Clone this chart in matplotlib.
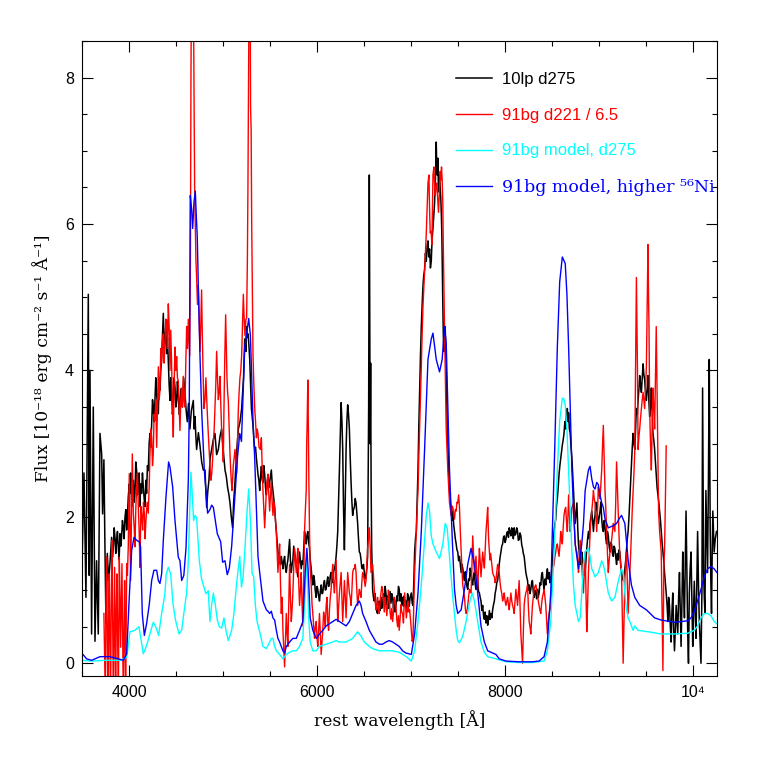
import numpy as np
import matplotlib
matplotlib.use("Agg")
import matplotlib.pyplot as plt
from matplotlib.ticker import MultipleLocator

# 10lp d275 (observed)
black_pts = [
    (3500, 1.5), (3518, 2.6), (3539, 0.9), (3564, 5.04), (3574, 1.2), (3582, 4.0), (3599, 0.4), (3617, 3.5),
    (3635, 0.3), (3652, 1.4), (3670, 0.4), (3688, 3.14), (3706, 2.86), (3716, 2.04), (3730, 2.78), (3741, 1.59),
    (3752, 0.54), (3766, 1.5), (3780, 1.13), (3794, 1.36), (3812, 1.72), (3821, 1.45), (3830, 1.58), (3839, 1.85),
    (3848, 1.72), (3856, 1.5), (3865, 1.68), (3874, 1.8), (3883, 1.58), (3892, 1.42), (3901, 1.77), (3910, 1.6),
    (3918, 1.72), (3927, 1.95), (3936, 1.86), (3945, 1.7), (3954, 1.99), (3963, 2.1), (3972, 1.82), (3980, 2.0),
    (3989, 2.27), (4000, 2.45), (4007, 2.32), (4016, 2.6), (4025, 2.14), (4034, 2.35), (4043, 2.5), (4052, 2.2),
    (4060, 2.32), (4069, 2.75), (4078, 2.63), (4087, 2.3), (4096, 2.41), (4105, 2.6), (4113, 2.14), (4122, 2.45),
    (4131, 2.32), (4140, 2.6), (4149, 2.41), (4158, 2.25), (4167, 2.14), (4176, 2.5), (4184, 2.32), (4193, 2.7),
    (4202, 2.63), (4211, 3.0), (4220, 3.14), (4229, 2.95), (4238, 3.27), (4247, 3.6), (4255, 3.5), (4264, 3.3),
    (4273, 3.59), (4282, 3.9), (4291, 3.68), (4300, 3.5), (4309, 3.41), (4318, 3.9), (4326, 3.73), (4335, 4.0),
    (4344, 4.18), (4353, 4.5), (4362, 4.78), (4370, 4.3), (4379, 4.41), (4388, 4.6), (4397, 4.23), (4406, 4.45),
    (4415, 4.14), (4424, 3.8), (4433, 3.59), (4441, 3.9), (4450, 3.73), (4459, 3.4), (4468, 3.55), (4477, 3.9),
    (4486, 3.77), (4495, 3.5), (4504, 3.59), (4512, 3.85), (4521, 3.68), (4530, 3.4), (4539, 3.55), (4550, 3.75),
    (4565, 3.5), (4578, 3.9), (4592, 3.7), (4605, 3.45), (4617, 3.3), (4630, 3.55), (4645, 3.2), (4660, 3.45),
    (4681, 3.59), (4690, 3.2), (4699, 3.37), (4708, 3.1), (4716, 2.92), (4735, 3.15), (4752, 2.97), (4770, 2.75),
    (4787, 2.64), (4805, 2.64), (4814, 2.4), (4823, 2.13), (4835, 2.35), (4847, 2.5), (4860, 2.8), (4876, 2.92),
    (4893, 3.05), (4911, 3.14), (4929, 2.85), (4947, 2.92), (4965, 3.1), (4982, 3.2), (5000, 2.9), (5018, 2.64),
    (5032, 2.55), (5046, 2.4), (5060, 2.3), (5071, 2.19), (5085, 2.0), (5099, 1.85), (5110, 2.2), (5124, 2.47),
    (5142, 2.9), (5160, 3.2), (5178, 3.3), (5195, 3.48), (5215, 3.9), (5228, 4.43), (5241, 4.26), (5246, 4.6),
    (5255, 4.45), (5263, 4.5), (5272, 4.35), (5281, 4.15), (5290, 3.8), (5299, 3.48), (5308, 3.35), (5316, 3.25),
    (5325, 3.05), (5334, 2.92), (5343, 2.95), (5352, 2.8), (5360, 2.7), (5369, 2.58), (5378, 2.5), (5387, 2.36),
    (5396, 2.55), (5405, 2.69), (5414, 2.5), (5422, 2.47), (5431, 2.7), (5440, 2.58), (5449, 2.4), (5458, 2.3),
    (5467, 2.45), (5475, 2.58), (5484, 2.4), (5493, 2.47), (5502, 2.55), (5511, 2.64), (5520, 2.45), (5528, 2.36),
    (5537, 2.25), (5546, 2.13), (5555, 1.95), (5564, 1.8), (5573, 1.65), (5581, 1.52), (5590, 1.5), (5599, 1.41),
    (5608, 1.35), (5617, 1.46), (5626, 1.38), (5634, 1.29), (5643, 1.4), (5652, 1.46), (5661, 1.3), (5670, 1.24),
    (5679, 1.35), (5687, 1.41), (5696, 1.55), (5705, 1.69), (5714, 1.4), (5723, 1.24), (5732, 1.35), (5740, 1.41),
    (5749, 1.6), (5758, 1.52), (5767, 1.45), (5776, 1.35), (5785, 1.25), (5793, 1.18), (5802, 1.35), (5811, 1.52),
    (5820, 1.4), (5829, 1.29), (5838, 1.4), (5846, 1.35), (5855, 1.55), (5864, 1.8), (5873, 1.7), (5882, 1.63),
    (5890, 1.75), (5899, 1.8), (5908, 1.65), (5917, 1.57), (5926, 1.4), (5935, 1.29), (5944, 1.15), (5952, 1.07),
    (5961, 1.2), (5970, 1.13), (5979, 0.98), (5988, 0.9), (5997, 1.05), (6005, 1.01), (6014, 0.92), (6023, 0.85),
    (6032, 0.98), (6041, 1.07), (6050, 0.95), (6058, 0.96), (6067, 1.08), (6076, 1.13), (6085, 1.0), (6094, 1.01),
    (6103, 1.12), (6111, 1.18), (6120, 1.05), (6129, 1.07), (6138, 1.2), (6147, 1.24), (6155, 1.1), (6164, 1.13),
    (6173, 1.25), (6182, 1.29), (6191, 1.35), (6200, 1.46), (6208, 1.6), (6217, 1.8), (6226, 2.2), (6235, 2.64),
    (6244, 3.1), (6253, 3.56), (6262, 3.3), (6270, 2.92), (6279, 2.1), (6288, 1.55), (6297, 2.2), (6306, 2.92),
    (6314, 3.3), (6323, 3.53), (6332, 3.4), (6341, 3.2), (6350, 2.8), (6359, 2.47), (6368, 2.2), (6376, 2.02),
    (6385, 2.1), (6394, 2.13), (6403, 2.25), (6412, 2.19), (6420, 2.05), (6429, 1.91), (6438, 1.7), (6447, 1.52),
    (6456, 1.5), (6465, 1.41), (6473, 1.3), (6482, 1.29), (6491, 1.35), (6500, 1.24), (6509, 1.15), (6518, 1.18),
    (6527, 1.3), (6535, 1.46), (6546, 3.5), (6553, 6.67), (6558, 4.5), (6562, 3.0), (6567, 4.1), (6572, 2.5),
    (6578, 1.6), (6588, 1.01), (6597, 0.9), (6606, 0.85), (6615, 0.95), (6624, 0.79), (6633, 0.7), (6641, 0.68),
    (6650, 0.8), (6659, 0.85), (6668, 0.72), (6677, 0.9), (6685, 0.75), (6694, 0.79), (6703, 0.95), (6712, 0.8),
    (6721, 1.05), (6730, 0.96), (6739, 0.8), (6748, 0.92), (6756, 0.75), (6765, 0.85), (6774, 0.98), (6783, 0.82),
    (6792, 0.95), (6801, 0.9), (6810, 0.75), (6818, 0.88), (6827, 0.7), (6836, 0.79), (6845, 0.92), (6854, 0.85),
    (6863, 1.05), (6871, 1.01), (6880, 0.85), (6889, 0.95), (6898, 0.8), (6907, 0.9), (6916, 0.78), (6924, 0.92),
    (6933, 0.85), (6942, 0.85), (6951, 0.7), (6960, 0.95), (6969, 0.9), (6978, 0.78), (6987, 0.9), (7000, 0.96),
    (7009, 0.82), (7018, 0.79), (7026, 1.1), (7035, 1.52), (7044, 1.7), (7053, 1.8), (7062, 2.2), (7071, 2.64),
    (7079, 3.2), (7088, 3.7), (7097, 4.2), (7106, 4.6), (7115, 4.9), (7124, 5.16), (7132, 5.3), (7141, 5.38),
    (7150, 5.6), (7159, 5.49), (7168, 5.7), (7177, 5.77), (7185, 5.55), (7194, 5.66), (7203, 5.4), (7212, 5.49),
    (7221, 5.8), (7230, 5.94), (7238, 6.1), (7247, 6.28), (7256, 6.6), (7265, 7.12), (7270, 6.8), (7275, 6.67),
    (7282, 6.9), (7289, 6.44), (7295, 6.6), (7300, 6.67), (7307, 6.5), (7314, 6.33), (7320, 6.1), (7325, 5.83),
    (7330, 5.3), (7335, 4.88), (7340, 4.5), (7346, 4.26), (7353, 4.4), (7360, 4.6), (7366, 4.3), (7371, 4.04),
    (7376, 3.7), (7381, 3.31), (7388, 3.0), (7395, 2.75), (7400, 2.5), (7406, 2.36), (7415, 2.2), (7424, 2.08),
    (7432, 1.95), (7441, 2.08), (7450, 1.9), (7459, 1.8), (7468, 1.7), (7477, 1.63), (7485, 1.55), (7494, 1.52),
    (7503, 1.4), (7512, 1.46), (7521, 1.35), (7530, 1.24), (7538, 1.35), (7547, 1.3), (7556, 1.2), (7565, 1.13),
    (7574, 1.25), (7582, 1.18), (7591, 1.05), (7600, 1.01), (7609, 1.15), (7618, 1.13), (7626, 1.3), (7635, 1.24),
    (7644, 1.1), (7653, 1.07), (7662, 1.2), (7671, 1.24), (7679, 1.08), (7688, 1.01), (7697, 1.15), (7706, 1.13),
    (7715, 0.98), (7724, 0.96), (7732, 0.9), (7741, 0.85), (7750, 0.72), (7759, 0.79), (7768, 0.65), (7777, 0.6),
    (7785, 0.7), (7794, 0.55), (7803, 0.65), (7812, 0.52), (7821, 0.6), (7830, 0.72), (7838, 0.6), (7847, 0.68),
    (7856, 0.62), (7865, 0.73), (7874, 0.8), (7883, 0.85), (7891, 0.95), (7900, 1.01), (7909, 1.1), (7918, 1.13),
    (7927, 1.25), (7935, 1.35), (7944, 1.45), (7953, 1.52), (7962, 1.6), (7971, 1.63), (7980, 1.72), (7988, 1.74),
    (7997, 1.65), (8006, 1.69), (8015, 1.78), (8024, 1.8), (8033, 1.72), (8041, 1.85), (8050, 1.8), (8059, 1.74),
    (8068, 1.85), (8077, 1.8), (8085, 1.7), (8094, 1.85), (8103, 1.75), (8112, 1.77), (8121, 1.85), (8130, 1.8),
    (8138, 1.68), (8147, 1.69), (8156, 1.78), (8165, 1.74), (8174, 1.62), (8183, 1.57), (8191, 1.5), (8200, 1.46),
    (8209, 1.35), (8218, 1.24), (8227, 1.18), (8236, 1.13), (8244, 1.0), (8253, 1.07), (8262, 0.95), (8271, 1.01),
    (8280, 1.1), (8288, 1.13), (8297, 0.98), (8306, 0.9), (8315, 1.0), (8324, 0.96), (8333, 0.88), (8341, 1.01),
    (8350, 0.9), (8359, 0.96), (8368, 1.1), (8377, 1.07), (8385, 1.2), (8394, 1.24), (8403, 1.1), (8412, 1.01),
    (8421, 1.15), (8430, 1.07), (8438, 1.2), (8447, 1.29), (8456, 1.15), (8465, 1.24), (8474, 1.1), (8483, 1.13),
    (8491, 1.25), (8500, 1.35), (8509, 1.6), (8518, 1.8), (8527, 1.9), (8536, 1.97), (8544, 2.15), (8553, 2.25),
    (8562, 2.4), (8571, 2.58), (8580, 2.7), (8589, 2.8), (8597, 2.9), (8606, 2.98), (8615, 3.05), (8624, 3.14),
    (8633, 3.3), (8642, 3.2), (8650, 3.45), (8659, 3.48), (8668, 3.3), (8673, 3.42), (8681, 3.2), (8690, 3.14),
    (8699, 2.95), (8708, 2.8), (8716, 2.6), (8725, 2.36), (8734, 2.1), (8743, 1.91), (8752, 2.05), (8761, 2.19),
    (8770, 1.85), (8778, 1.63), (8787, 1.5), (8796, 1.35), (8805, 1.45), (8813, 1.52), (8822, 1.4), (8831, 1.29),
    (8840, 1.2), (8849, 1.24), (8857, 1.4), (8866, 1.57), (8875, 1.7), (8884, 1.8), (8893, 1.7), (8901, 1.91),
    (8910, 2.0), (8919, 2.08), (8928, 1.95), (8937, 1.8), (8945, 1.95), (8954, 2.02), (8963, 2.2), (8972, 2.13),
    (8981, 2.0), (8989, 1.91), (8998, 2.0), (9007, 2.08), (9016, 2.2), (9025, 1.97), (9033, 1.85), (9042, 1.8),
    (9051, 1.95), (9060, 1.86), (9069, 1.7), (9077, 1.63), (9086, 1.8), (9095, 1.74), (9104, 1.6), (9113, 1.52),
    (9121, 1.65), (9130, 1.63), (9139, 1.5), (9148, 1.46), (9157, 1.6), (9165, 1.57), (9174, 1.45), (9183, 1.35),
    (9192, 1.5), (9201, 1.41), (9209, 1.55), (9218, 1.52), (9227, 1.35), (9236, 1.24), (9245, 1.18), (9253, 1.13),
    (9262, 1.2), (9271, 1.29), (9280, 1.4), (9289, 1.57), (9297, 1.7), (9306, 1.8), (9315, 2.0), (9324, 2.25),
    (9333, 2.5), (9341, 2.75), (9350, 2.95), (9359, 3.14), (9368, 3.0), (9377, 2.92), (9385, 3.2), (9394, 3.48),
    (9403, 3.4), (9412, 3.59), (9421, 3.75), (9429, 3.93), (9438, 3.8), (9447, 3.7), (9456, 3.9), (9465, 4.09),
    (9473, 3.95), (9482, 3.87), (9491, 3.7), (9500, 3.59), (9509, 3.75), (9517, 3.93), (9526, 3.6), (9535, 3.37),
    (9544, 3.5), (9553, 3.76), (9561, 3.45), (9570, 3.14), (9579, 3.05), (9588, 2.92), (9597, 2.75), (9605, 2.58),
    (9614, 2.4), (9623, 2.3), (9632, 2.2), (9641, 2.08), (9650, 1.95), (9658, 1.8), (9667, 1.65), (9676, 1.52),
    (9685, 1.4), (9693, 1.24), (9702, 1.1), (9711, 0.96), (9720, 0.8), (9729, 0.57), (9737, 0.9), (9746, 0.79),
    (9755, 0.5), (9764, 0.29), (9772, 0.7), (9781, 0.96), (9790, 0.5), (9799, 0.17), (9808, 0.45), (9817, 0.79),
    (9825, 0.6), (9834, 0.4), (9843, 0.9), (9852, 1.24), (9861, 0.7), (9869, 0.23), (9878, 0.8), (9887, 1.52),
    (9896, 1.0), (9905, 0.62), (9913, 1.3), (9922, 2.08), (9931, 1.2), (9940, 0.4), (9948, 0.0), (9957, 0.96),
    (9966, 1.3), (9975, 1.52), (9984, 0.9), (9993, 0.23), (10001, 0.7), (10010, 1.12), (10019, 0.7), (10028, 0.34),
    (10036, 1.0), (10045, 1.8), (10054, 1.1), (10063, 0.57), (10072, 0.3), (10081, 0.0), (10091, 1.0), (10098, 3.76),
    (10104, 2.4), (10109, 1.24), (10116, 0.9), (10123, 0.68), (10128, 1.6), (10133, 2.36), (10142, 1.8), (10151, 1.24),
    (10160, 2.5), (10169, 4.15), (10174, 3.0), (10179, 1.8), (10186, 1.1), (10193, 0.68), (10200, 1.5), (10207, 2.08),
    (10214, 1.8), (10221, 1.52), (10233, 1.7), (10246, 1.8),
]

# 91bg d221 / 6.5
red_pts = [
    (3730, 0.68), (3745, -0.5), (3752, 0.9), (3759, 1.45), (3766, 0.3), (3773, -0.5), (3780, 0.6), (3787, 1.22),
    (3794, 0.2), (3801, -0.5), (3808, 0.8), (3816, 1.68), (3823, 0.5), (3830, -0.5), (3837, 0.4), (3844, 1.31),
    (3850, 0.3), (3855, -0.5), (3862, 0.7), (3869, 1.22), (3876, 0.4), (3883, -0.5), (3889, 0.6), (3894, 1.45),
    (3901, 0.9), (3908, 0.22), (3915, 0.8), (3922, 1.36), (3929, 0.5), (3936, -0.5), (3943, 0.3), (3950, 1.13),
    (3956, 0.4), (3961, -0.5), (3967, 0.5), (3972, 1.36), (3980, 1.2), (3989, 1.59), (4000, 2.59), (4007, 1.8),
    (4014, 1.13), (4023, 2.0), (4032, 2.86), (4043, 2.05), (4052, 1.85), (4060, 1.59), (4069, 2.1), (4078, 2.41),
    (4087, 2.6), (4096, 2.14), (4105, 1.8), (4113, 1.31), (4118, 1.7), (4124, 2.14), (4133, 2.0), (4142, 1.82),
    (4151, 2.2), (4160, 2.05), (4168, 1.7), (4177, 1.95), (4190, 2.2), (4202, 2.05), (4211, 2.4), (4220, 2.86),
    (4229, 3.2), (4238, 3.09), (4247, 2.7), (4255, 2.86), (4264, 3.4), (4273, 3.32), (4282, 3.6), (4291, 2.95),
    (4300, 3.5), (4309, 4.05), (4318, 3.6), (4326, 3.73), (4335, 4.3), (4344, 4.1), (4353, 4.4), (4362, 4.5),
    (4370, 4.1), (4379, 4.32), (4388, 4.7), (4397, 4.69), (4406, 4.3), (4415, 4.91), (4424, 4.6), (4433, 4.0),
    (4441, 4.55), (4450, 4.1), (4459, 3.5), (4468, 3.09), (4477, 3.8), (4486, 4.32), (4495, 4.0), (4504, 4.19),
    (4512, 3.9), (4521, 3.86), (4530, 3.5), (4539, 3.18), (4548, 3.6), (4557, 3.76), (4565, 3.5), (4574, 3.92),
    (4583, 3.6), (4592, 3.5), (4601, 4.1), (4610, 4.6), (4619, 4.3), (4628, 4.7), (4636, 4.4), (4642, 4.2),
    (4650, 5.5), (4656, 8.0), (4662, 9.5), (4672, 9.5), (4680, 9.5), (4688, 8.0), (4695, 6.5), (4702, 6.0),
    (4709, 5.5), (4716, 5.27), (4725, 4.9), (4734, 5.16), (4743, 4.7), (4752, 4.26), (4760, 4.6), (4769, 5.1),
    (4778, 4.4), (4786, 3.9), (4794, 3.48), (4805, 3.6), (4815, 3.9), (4827, 3.5), (4840, 3.14), (4850, 2.9),
    (4858, 2.7), (4868, 2.5), (4876, 2.58), (4885, 2.75), (4894, 3.0), (4903, 3.2), (4911, 3.48), (4920, 3.8),
    (4929, 4.26), (4938, 3.9), (4947, 3.6), (4956, 3.7), (4965, 3.92), (4974, 3.5), (4982, 3.2), (4991, 3.0),
    (5000, 2.75), (5007, 3.48), (5016, 4.2), (5025, 4.76), (5032, 4.3), (5039, 3.9), (5046, 3.7), (5053, 3.59),
    (5062, 3.2), (5071, 2.86), (5080, 2.6), (5092, 2.36), (5099, 2.5), (5106, 2.7), (5115, 2.8), (5124, 2.92),
    (5133, 2.75), (5142, 2.6), (5151, 3.0), (5160, 3.48), (5168, 3.7), (5177, 3.9), (5186, 4.0), (5195, 4.2),
    (5204, 4.6), (5213, 5.04), (5222, 4.7), (5230, 4.48), (5240, 4.7), (5248, 4.71), (5256, 5.5), (5262, 6.5),
    (5268, 8.0), (5274, 9.2), (5280, 10.0), (5286, 9.0), (5290, 7.6), (5296, 7.3), (5302, 6.0), (5308, 5.16),
    (5316, 4.2), (5325, 3.8), (5334, 3.48), (5343, 3.3), (5352, 3.08), (5360, 3.2), (5369, 3.14), (5380, 2.95),
    (5394, 2.92), (5405, 3.08), (5413, 2.7), (5422, 2.36), (5431, 2.1), (5440, 1.85), (5449, 2.1), (5458, 2.36),
    (5467, 2.5), (5475, 2.58), (5484, 2.3), (5493, 2.08), (5502, 2.3), (5511, 2.47), (5520, 2.2), (5528, 2.02),
    (5537, 2.2), (5546, 2.13), (5555, 1.95), (5564, 1.8), (5573, 1.5), (5581, 1.24), (5590, 1.45), (5599, 1.63),
    (5608, 1.1), (5617, 0.68), (5626, 0.9), (5634, 0.45), (5643, 0.2), (5652, -0.05), (5661, 0.3), (5670, 0.68),
    (5679, 0.4), (5687, 0.23), (5696, 0.8), (5705, 1.35), (5714, 0.9), (5723, 0.57), (5732, 0.75), (5740, 0.96),
    (5749, 1.3), (5758, 1.57), (5767, 1.4), (5776, 1.24), (5785, 1.45), (5793, 1.57), (5802, 1.1), (5811, 0.79),
    (5820, 1.0), (5829, 1.24), (5838, 0.8), (5846, 0.51), (5855, 1.1), (5864, 1.8), (5873, 2.1), (5882, 2.36),
    (5887, 3.0), (5892, 3.3), (5899, 3.87), (5905, 3.2), (5910, 2.5), (5917, 1.8), (5924, 1.3), (5935, 1.07),
    (5944, 0.8), (5952, 0.68), (5961, 0.5), (5970, 0.34), (5979, 0.5), (5988, 0.57), (5997, 0.35), (6005, 0.23),
    (6014, 0.45), (6023, 0.68), (6032, 0.4), (6041, 0.12), (6050, 0.3), (6058, 0.45), (6067, 0.7), (6076, 0.62),
    (6085, 0.5), (6094, 0.79), (6103, 0.9), (6111, 0.57), (6120, 0.45), (6129, 0.73), (6138, 0.9), (6147, 1.01),
    (6155, 1.2), (6164, 1.35), (6173, 1.1), (6182, 0.96), (6191, 1.2), (6200, 1.41), (6208, 1.0), (6217, 0.57),
    (6226, 0.75), (6235, 0.96), (6244, 1.1), (6253, 1.24), (6262, 0.9), (6270, 0.57), (6279, 0.85), (6288, 1.13),
    (6297, 0.9), (6306, 0.62), (6314, 0.9), (6323, 1.24), (6332, 1.1), (6341, 0.96), (6350, 0.9), (6359, 0.79),
    (6368, 1.0), (6376, 1.24), (6385, 1.29), (6394, 1.29), (6403, 1.35), (6412, 1.24), (6420, 1.0), (6429, 0.79),
    (6438, 0.9), (6447, 1.01), (6456, 0.95), (6465, 0.9), (6473, 1.1), (6482, 1.24), (6491, 1.2), (6500, 1.13),
    (6509, 1.05), (6518, 1.13), (6527, 1.35), (6535, 1.57), (6544, 1.7), (6553, 1.85), (6562, 1.6), (6571, 1.24),
    (6580, 1.3), (6588, 1.35), (6597, 1.2), (6606, 1.01), (6615, 0.85), (6624, 0.73), (6633, 0.8), (6641, 0.9),
    (6650, 0.75), (6659, 0.68), (6668, 0.85), (6677, 0.95), (6685, 1.05), (6694, 1.01), (6703, 0.85), (6712, 0.7),
    (6721, 0.9), (6730, 0.79), (6739, 0.65), (6748, 0.8), (6756, 1.0), (6765, 0.9), (6774, 0.7), (6783, 0.6),
    (6792, 0.75), (6801, 0.57), (6810, 0.7), (6818, 0.9), (6827, 0.85), (6836, 0.79), (6845, 0.6), (6854, 0.5),
    (6863, 0.65), (6871, 0.45), (6880, 0.6), (6889, 0.8), (6898, 0.7), (6907, 0.68), (6916, 0.55), (6929, 0.96),
    (6938, 0.8), (6947, 0.62), (6956, 0.75), (6965, 0.85), (6974, 0.7), (6982, 0.73), (6991, 0.6), (7000, 0.45),
    (7009, 0.3), (7018, 0.34), (7026, 0.8), (7035, 1.24), (7044, 1.5), (7053, 1.8), (7062, 2.1), (7071, 2.36),
    (7079, 2.8), (7088, 3.2), (7097, 3.6), (7106, 4.04), (7115, 4.5), (7124, 4.88), (7132, 5.1), (7141, 5.38),
    (7150, 5.6), (7159, 5.88), (7168, 6.2), (7177, 6.56), (7187, 6.67), (7194, 6.2), (7201, 5.88), (7210, 5.9),
    (7219, 5.72), (7225, 6.2), (7230, 6.67), (7240, 6.78), (7247, 6.55), (7254, 6.39), (7263, 6.5), (7272, 6.56),
    (7280, 6.35), (7289, 6.16), (7298, 6.4), (7307, 6.72), (7314, 6.6), (7321, 6.78), (7328, 6.6), (7335, 6.28),
    (7340, 5.7), (7346, 5.16), (7353, 4.6), (7360, 4.04), (7366, 3.6), (7371, 3.2), (7380, 2.9), (7388, 2.64),
    (7397, 2.4), (7406, 2.19), (7415, 2.1), (7424, 2.02), (7432, 2.15), (7441, 2.13), (7450, 2.05), (7459, 1.97),
    (7468, 2.1), (7477, 2.08), (7485, 2.2), (7494, 2.19), (7503, 2.3), (7512, 2.13), (7521, 1.8), (7530, 1.52),
    (7538, 1.3), (7547, 1.07), (7556, 1.0), (7565, 0.9), (7574, 0.75), (7582, 0.68), (7591, 0.7), (7600, 0.79),
    (7609, 0.9), (7618, 1.01), (7626, 0.98), (7635, 0.96), (7644, 1.3), (7653, 1.74), (7662, 1.5), (7671, 1.24),
    (7679, 1.35), (7688, 1.46), (7697, 1.2), (7706, 1.01), (7715, 1.3), (7724, 1.57), (7732, 1.4), (7741, 1.18),
    (7750, 1.35), (7759, 1.52), (7768, 1.4), (7777, 1.3), (7785, 1.55), (7794, 1.8), (7803, 1.95), (7812, 2.13),
    (7817, 1.9), (7822, 1.69), (7829, 1.55), (7836, 1.41), (7842, 1.5), (7847, 1.46), (7856, 1.35), (7865, 1.24),
    (7874, 1.2), (7883, 1.18), (7891, 1.1), (7900, 1.13), (7909, 1.25), (7918, 1.35), (7927, 1.3), (7935, 1.24),
    (7944, 1.1), (7953, 1.01), (7962, 0.95), (7971, 0.85), (7980, 0.9), (7988, 0.96), (7997, 0.85), (8006, 0.79),
    (8015, 0.85), (8024, 0.9), (8033, 0.8), (8041, 0.73), (8050, 0.85), (8059, 0.96), (8068, 0.85), (8077, 0.79),
    (8085, 0.75), (8094, 0.68), (8103, 0.85), (8112, 1.01), (8121, 0.9), (8130, 0.79), (8138, 0.95), (8147, 1.13),
    (8156, 0.8), (8165, 0.4), (8174, 0.2), (8183, 0.0), (8191, 0.4), (8200, 0.79), (8209, 0.9), (8218, 0.96),
    (8227, 1.0), (8236, 1.07), (8244, 0.8), (8253, 0.57), (8262, 0.5), (8271, 0.4), (8280, 0.6), (8288, 0.79),
    (8297, 0.9), (8306, 1.01), (8315, 1.05), (8324, 1.07), (8333, 1.0), (8341, 0.96), (8350, 0.85), (8359, 0.79),
    (8368, 0.72), (8377, 0.68), (8385, 0.8), (8394, 0.9), (8403, 0.95), (8412, 1.01), (8421, 0.9), (8430, 0.79),
    (8438, 0.6), (8447, 0.4), (8456, 0.55), (8465, 0.68), (8474, 0.72), (8483, 0.79), (8491, 1.0), (8500, 1.24),
    (8509, 1.3), (8518, 1.35), (8527, 1.45), (8536, 1.52), (8544, 1.6), (8553, 1.63), (8562, 1.55), (8571, 1.46),
    (8580, 1.6), (8589, 1.8), (8597, 1.7), (8606, 1.63), (8615, 1.85), (8624, 2.02), (8633, 2.1), (8642, 2.13),
    (8650, 1.95), (8659, 1.8), (8666, 2.0), (8673, 2.3), (8681, 2.05), (8690, 1.8), (8699, 1.95), (8708, 2.13),
    (8716, 2.15), (8725, 2.19), (8734, 1.9), (8743, 1.63), (8752, 1.55), (8761, 1.52), (8770, 1.4), (8778, 1.24),
    (8787, 1.45), (8796, 1.68), (8805, 1.5), (8813, 1.35), (8822, 1.15), (8831, 0.96), (8840, 1.25), (8849, 1.52),
    (8857, 1.0), (8866, 0.43), (8875, 0.8), (8884, 1.24), (8893, 1.5), (8901, 1.8), (8910, 1.95), (8919, 2.08),
    (8928, 2.2), (8937, 2.36), (8945, 2.25), (8954, 2.19), (8963, 2.0), (8972, 1.8), (8981, 2.1), (8989, 2.41),
    (8998, 2.3), (9007, 2.25), (9016, 2.45), (9025, 2.64), (9033, 2.95), (9042, 3.25), (9051, 2.8), (9060, 2.36),
    (9069, 2.1), (9077, 1.8), (9086, 1.5), (9095, 1.24), (9104, 1.4), (9113, 1.52), (9121, 1.6), (9130, 1.68),
    (9139, 1.8), (9148, 1.91), (9157, 1.85), (9165, 1.8), (9174, 2.2), (9183, 2.75), (9192, 2.4), (9201, 2.08),
    (9209, 1.75), (9218, 1.46), (9227, 1.35), (9236, 1.24), (9245, 0.6), (9253, 0.0), (9262, 0.6), (9271, 1.13),
    (9280, 1.35), (9289, 1.52), (9297, 1.1), (9306, 0.68), (9315, 0.95), (9324, 1.24), (9333, 1.5), (9341, 1.8),
    (9350, 2.1), (9359, 2.36), (9368, 2.6), (9377, 2.92), (9385, 4.0), (9394, 5.27), (9400, 4.6), (9405, 4.04),
    (9412, 2.92), (9421, 3.1), (9429, 3.2), (9438, 3.35), (9447, 3.48), (9456, 3.6), (9465, 3.7), (9473, 3.6),
    (9482, 3.48), (9491, 3.75), (9500, 4.04), (9509, 4.9), (9517, 5.72), (9523, 5.0), (9528, 4.6), (9535, 3.48),
    (9544, 3.0), (9553, 2.64), (9561, 3.2), (9570, 3.76), (9579, 3.5), (9588, 3.2), (9597, 3.9), (9605, 4.6),
    (9611, 4.0), (9616, 3.48), (9623, 2.8), (9630, 2.08), (9641, 1.8), (9650, 1.65), (9658, 1.52), (9667, 0.7),
    (9676, -0.1), (9681, 0.6), (9686, 1.35), (9693, 1.52), (9702, 2.2), (9711, 2.97),
]

# 91bg model, d275
cyan_pts = [
    (3500, 0.04), (3600, 0.03), (3750, 0.04), (3900, 0.04), (3972, 0.08), (3990, 0.25), (4007, 0.43), (4060, 0.45),
    (4103, 0.5), (4127, 0.31), (4149, 0.13), (4172, 0.2), (4195, 0.29), (4230, 0.45), (4255, 0.56), (4284, 0.49),
    (4312, 0.38), (4344, 0.68), (4379, 0.95), (4393, 1.22), (4415, 1.31), (4440, 1.22), (4465, 0.81), (4493, 0.58),
    (4529, 0.4), (4557, 0.45), (4582, 0.7), (4610, 0.96), (4628, 1.4), (4645, 2.2), (4656, 2.61), (4670, 2.3),
    (4684, 1.95), (4699, 2.02), (4716, 1.99), (4745, 1.4), (4769, 1.15), (4787, 1.07), (4815, 0.95), (4840, 0.99),
    (4858, 0.57), (4876, 0.8), (4894, 0.96), (4915, 0.8), (4936, 0.59), (4957, 0.5), (4982, 0.48), (5007, 0.62),
    (5028, 0.45), (5053, 0.31), (5089, 0.45), (5113, 0.68), (5142, 1.1), (5175, 1.46), (5193, 1.04), (5210, 1.18),
    (5228, 1.52), (5253, 2.08), (5270, 2.38), (5288, 1.96), (5306, 1.23), (5323, 1.18), (5341, 0.79), (5359, 0.57),
    (5387, 0.43), (5422, 0.23), (5458, 0.2), (5493, 0.29), (5511, 0.34), (5528, 0.34), (5546, 0.23), (5564, 0.17),
    (5599, 0.12), (5634, 0.06), (5670, 0.12), (5705, 0.15), (5740, 0.17), (5776, 0.17), (5811, 0.23), (5846, 0.34),
    (5871, 0.96), (5889, 1.52), (5906, 0.68), (5924, 0.29), (5952, 0.17), (5988, 0.17), (6023, 0.23), (6094, 0.26),
    (6164, 0.29), (6200, 0.31), (6235, 0.29), (6306, 0.29), (6376, 0.34), (6429, 0.43), (6465, 0.37), (6500, 0.29),
    (6553, 0.23), (6588, 0.2), (6659, 0.17), (6730, 0.17), (6801, 0.17), (6871, 0.15), (6947, 0.09), (7000, 0.03),
    (7035, 0.17), (7071, 0.57), (7106, 1.07), (7141, 1.68), (7159, 2.02), (7177, 2.19), (7194, 2.08), (7212, 1.74),
    (7230, 1.63), (7265, 1.52), (7300, 1.43), (7335, 1.63), (7360, 1.91), (7381, 1.85), (7406, 1.46), (7441, 0.9),
    (7477, 0.45), (7494, 0.31), (7512, 0.28), (7547, 0.37), (7582, 0.57), (7618, 0.82), (7646, 0.96), (7671, 0.85),
    (7706, 0.57), (7741, 0.29), (7777, 0.15), (7812, 0.09), (7900, 0.06), (8006, 0.02), (8147, 0.01), (8288, 0.01),
    (8412, 0.03), (8447, 0.17), (8483, 0.57), (8518, 1.52), (8553, 2.64), (8578, 3.31), (8606, 3.62), (8620, 3.62),
    (8637, 3.53), (8655, 3.2), (8673, 2.64), (8690, 2.08), (8708, 1.52), (8725, 1.07), (8743, 0.79), (8761, 0.68),
    (8778, 0.57), (8796, 0.62), (8813, 0.96), (8831, 1.35), (8849, 1.52), (8884, 1.57), (8901, 1.46), (8919, 1.29),
    (8937, 1.24), (8954, 1.18), (8989, 1.24), (9025, 1.4), (9042, 1.35), (9060, 1.24), (9095, 0.96), (9130, 0.85),
    (9165, 0.9), (9201, 1.12), (9236, 1.29), (9253, 1.24), (9271, 0.96), (9289, 0.73), (9306, 0.62), (9324, 0.57),
    (9359, 0.45), (9377, 0.51), (9412, 0.45), (9517, 0.43), (9658, 0.4), (9799, 0.4), (9940, 0.41), (10010, 0.45),
    (10045, 0.51), (10081, 0.62), (10116, 0.68), (10151, 0.68), (10186, 0.65), (10221, 0.57), (10250, 0.54),
]

# 91bg model, higher 56Ni
blue_pts = [
    (3500, 0.13), (3546, 0.06), (3599, 0.04), (3688, 0.09), (3794, 0.09), (3883, 0.06), (3936, 0.04), (3972, 0.13),
    (4000, 0.91), (4025, 1.54), (4050, 1.72), (4078, 1.68), (4106, 1.66), (4120, 1.59), (4138, 0.68), (4160, 0.38),
    (4184, 0.54), (4213, 0.81), (4238, 1.13), (4262, 1.27), (4291, 1.27), (4309, 1.13), (4326, 1.09), (4344, 1.22),
    (4362, 1.68), (4390, 2.27), (4418, 2.75), (4433, 2.68), (4461, 2.41), (4486, 1.95), (4521, 1.45), (4539, 1.4),
    (4557, 1.13), (4580, 1.2), (4603, 1.57), (4628, 2.5), (4638, 3.48), (4649, 6.39), (4663, 6.2), (4674, 5.94),
    (4688, 6.3), (4702, 6.45), (4713, 6.1), (4723, 5.83), (4734, 5.16), (4752, 4.2), (4769, 3.48), (4798, 2.64),
    (4833, 2.05), (4858, 2.1), (4876, 2.16), (4894, 2.13), (4915, 1.95), (4936, 1.77), (4972, 1.66), (4993, 1.38),
    (5018, 1.4), (5042, 1.21), (5064, 1.3), (5089, 1.6), (5124, 2.3), (5150, 2.8), (5175, 3.14), (5193, 3.03),
    (5210, 3.65), (5228, 4.32), (5246, 4.48), (5270, 4.71), (5288, 4.48), (5299, 4.04), (5316, 3.31), (5334, 2.8),
    (5352, 2.13), (5369, 1.46), (5387, 1.24), (5422, 0.85), (5458, 0.73), (5475, 0.71), (5493, 0.68), (5511, 0.71),
    (5528, 0.62), (5546, 0.59), (5564, 0.45), (5581, 0.34), (5599, 0.29), (5634, 0.17), (5652, 0.14), (5670, 0.23),
    (5705, 0.29), (5740, 0.34), (5776, 0.34), (5811, 0.45), (5846, 0.57), (5871, 1.24), (5889, 1.57), (5906, 1.18),
    (5924, 0.62), (5952, 0.45), (5988, 0.34), (6023, 0.4), (6058, 0.45), (6094, 0.51), (6129, 0.54), (6164, 0.57),
    (6200, 0.6), (6235, 0.57), (6270, 0.54), (6306, 0.51), (6341, 0.57), (6376, 0.68), (6412, 0.79), (6447, 0.85),
    (6465, 0.79), (6482, 0.68), (6518, 0.57), (6553, 0.45), (6588, 0.37), (6624, 0.29), (6659, 0.26), (6694, 0.26),
    (6730, 0.29), (6765, 0.31), (6801, 0.29), (6836, 0.26), (6871, 0.23), (6907, 0.17), (6942, 0.14), (7000, 0.12),
    (7035, 0.4), (7071, 0.96), (7106, 1.8), (7141, 2.92), (7177, 4.15), (7212, 4.43), (7230, 4.51), (7265, 4.15),
    (7300, 3.98), (7328, 4.15), (7353, 4.6), (7371, 4.37), (7388, 3.53), (7406, 2.64), (7441, 1.52), (7459, 1.01),
    (7477, 0.79), (7494, 0.68), (7530, 0.73), (7565, 1.01), (7600, 1.35), (7635, 1.57), (7671, 1.35), (7706, 0.96),
    (7741, 0.51), (7777, 0.29), (7812, 0.17), (7865, 0.14), (7900, 0.12), (7935, 0.06), (8006, 0.03), (8147, 0.02),
    (8288, 0.02), (8359, 0.03), (8412, 0.09), (8447, 0.29), (8483, 0.96), (8500, 1.8), (8525, 2.92), (8553, 4.32),
    (8578, 5.21), (8606, 5.55), (8637, 5.46), (8655, 5.04), (8673, 4.32), (8690, 3.48), (8708, 2.64), (8725, 2.08),
    (8743, 1.63), (8761, 1.46), (8778, 1.29), (8796, 1.46), (8813, 1.63), (8831, 1.91), (8849, 2.36), (8884, 2.64),
    (8901, 2.69), (8919, 2.52), (8937, 2.41), (8954, 2.38), (8972, 2.47), (8989, 2.44), (9007, 2.3), (9025, 2.19),
    (9042, 2.13), (9060, 1.97), (9095, 1.85), (9148, 1.88), (9183, 1.91), (9218, 1.99), (9236, 2.02), (9271, 1.91),
    (9306, 1.41), (9341, 1.07), (9377, 0.9), (9429, 0.79), (9500, 0.73), (9588, 0.62), (9658, 0.59), (9799, 0.56),
    (9940, 0.58), (9975, 0.62), (10010, 0.71), (10045, 0.85), (10081, 1.01), (10116, 1.18), (10151, 1.29),
    (10186, 1.32), (10221, 1.29), (10250, 1.24),
]

series = [
    (black_pts, "black", "10lp d275", 1.1),
    (red_pts, "red", "91bg d221 / 6.5", 1.0),
    (cyan_pts, "cyan", "91bg model, d275", 1.0),
    (blue_pts, "blue", "91bg model, higher \u2075\u2076Ni", 1.0),
]

x_ticks = [4000, 6000, 8000, 10000]
x_ticklabels = ["4000", "6000", "8000", "10\u2074"]
y_ticks = [0, 2, 4, 6, 8]

sans = ["Liberation Sans", "DejaVu Sans"]
serif = ["DejaVu Serif"]

fig = plt.figure(figsize=(7.57, 7.57), dpi=100)
ax = fig.add_axes([0.1087, 0.1074, 0.8383, 0.8384])

for pts, col, lab, lw in series:
    w, f = np.array(pts).T
    ax.plot(w, f, color=col, lw=lw, label=lab)

ax.set_xlim(3500, 10250)
ax.set_ylim(-0.17, 8.5)

ax.set_xticks(x_ticks)
ax.set_xticklabels(x_ticklabels, family=sans, fontsize=11.5)
ax.set_yticks(y_ticks)
ax.set_yticklabels([str(v) for v in y_ticks], family=sans, fontsize=11.5)
ax.xaxis.set_minor_locator(MultipleLocator(500))
ax.yaxis.set_minor_locator(MultipleLocator(0.5))
ax.tick_params(which="both", direction="in", top=True, right=True, width=0.8, color="black")
ax.tick_params(which="major", length=8)
ax.tick_params(which="minor", length=3.8)
ax.tick_params(axis="x", which="major", pad=7)
ax.tick_params(axis="y", which="major", pad=6)
for sp in ax.spines.values():
    sp.set_linewidth(0.8)

ax.set_xlabel("rest wavelength [\u00c5]", family=serif, fontsize=12.3, labelpad=7)
ax.set_ylabel("Flux [10\u207b\u00b9\u2078 erg cm\u207b\u00b2 s\u207b\u00b9 \u00c5\u207b\u00b9]",
              family=serif, fontsize=12.3, labelpad=9)

leg = ax.legend(loc="upper left", bbox_to_anchor=(0.578, 0.962), frameon=False,
                fontsize=12, handlelength=2.15, handletextpad=0.6, labelspacing=1.25,
                borderaxespad=0.0)
for txt, (pts, col, lab, lw) in zip(leg.get_texts(), series):
    txt.set_color(col)
    txt.set_fontfamily(sans)
leg.get_texts()[3].set_fontfamily(serif)
leg.get_texts()[3].set_fontsize(12.5)

fig.savefig("out.png", dpi=100)
